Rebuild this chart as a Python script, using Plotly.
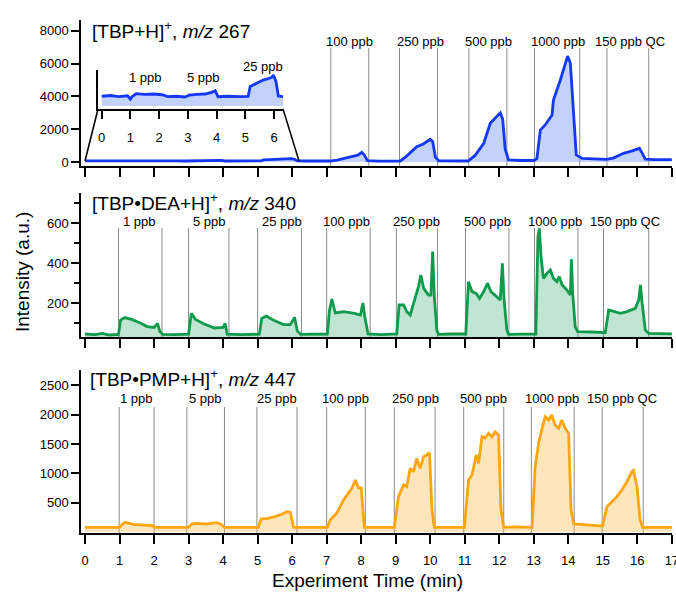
import plotly.graph_objects as go

W, H = 676, 594

# ---------------- data ----------------
t_top = [0.0, 0.3, 0.6, 0.9, 1.0, 1.05, 1.2, 1.5, 1.8, 2.1, 2.3, 2.6, 2.9, 3.05, 3.3, 3.6, 3.85, 3.95,
         4.05, 4.4, 4.8, 5.1, 5.17, 5.27, 5.45, 5.62, 5.8, 5.92, 5.98, 6.07, 6.15, 6.4, 6.8, 7.1,
         7.3, 7.5, 7.77, 7.9, 8.02, 8.1, 8.18, 8.5, 9.0, 9.13, 9.3, 9.61, 9.8, 10.0, 10.07, 10.15,
         10.25, 10.6, 11.1, 11.3, 11.55, 11.74, 11.9, 12.03, 12.1, 12.17, 12.27, 12.6, 13.0, 13.09,
         13.19, 13.33, 13.53, 13.57, 13.77, 13.91, 13.98, 14.06, 14.14, 14.23, 14.4, 14.8, 15.1,
         15.3, 15.6, 15.85, 16.06, 16.15, 16.23, 16.5, 17.0]
v_top = [65, 70, 62, 68, 45, 60, 82, 78, 80, 75, 62, 65, 60, 72, 78, 80, 92, 102,
         62, 65, 62, 64, 130, 140, 158, 173, 182, 191, 207, 162, 67, 60, 62, 60,
         110, 200, 365, 420, 590, 400, 80, 50, 50, 60, 330, 930, 1100, 1380, 1250, 300,
         70, 55, 60, 400, 1140, 2360, 2700, 3000, 2600, 800, 130, 90, 90, 200,
         1950, 2260, 2870, 3780, 5000, 6020, 6460, 6020, 3370, 430, 220, 180, 160,
         240, 530, 680, 835, 500, 180, 150, 140]

t_mid = [0.0, 0.3, 0.5, 0.7, 0.97, 1.03, 1.15, 1.35, 1.6, 1.8, 2.0, 2.1, 2.17, 2.25, 2.6, 3.0,
         3.08, 3.2, 3.45, 3.75, 4.0, 4.06, 4.12, 4.5, 5.05, 5.12, 5.25, 5.45, 5.75, 5.95, 6.07,
         6.15, 6.25, 6.6, 7.02, 7.08, 7.15, 7.25, 7.5, 7.8, 7.98, 8.05, 8.1, 8.2, 8.6, 9.03,
         9.1, 9.23, 9.32, 9.42, 9.57, 9.66, 9.73, 9.81, 9.95, 10.02, 10.07, 10.12, 10.19, 10.24,
         10.6, 11.03, 11.11, 11.21, 11.33, 11.43, 11.55, 11.66, 11.76, 11.91, 12.03, 12.09,
         12.14, 12.22, 12.27, 12.7, 13.06, 13.12, 13.16, 13.21, 13.28, 13.38, 13.48, 13.57,
         13.67, 13.74, 13.82, 13.96, 14.06, 14.09, 14.13, 14.2, 14.27, 14.7, 15.07, 15.17,
         15.31, 15.51, 15.7, 15.85, 15.94, 16.04, 16.09, 16.14, 16.23, 16.33, 16.7, 17.0]
v_mid = [45, 42, 48, 40, 43, 115, 127, 118, 100, 82, 78, 98, 57, 43, 42, 44,
         148, 118, 95, 75, 78, 98, 44, 42, 44, 123, 135, 115, 92, 92, 128,
         60, 43, 44, 45, 160, 220, 150, 157, 148, 140, 200, 135, 45, 42, 45,
         190, 190, 157, 140, 223, 282, 340, 273, 240, 240, 457, 232, 65, 43,
         45, 45, 307, 257, 248, 223, 257, 298, 257, 232, 215, 398,
         215, 65, 43, 44, 45, 532, 573, 432, 323, 348, 365, 323,
         307, 332, 290, 265, 240, 418, 240, 82, 57, 55, 52, 165,
         157, 148, 157, 165, 173, 215, 290, 198, 65, 48, 45, 46]

t_bot = [0.0, 0.5, 1.0, 1.08, 1.16, 1.4, 1.75, 1.95, 2.03, 2.5, 2.99, 3.1, 3.2, 3.5, 3.8, 3.93,
         4.04, 4.5, 5.02, 5.1, 5.3, 5.5, 5.7, 5.85, 5.95, 6.04, 6.5, 7.02, 7.1, 7.29, 7.49, 7.63,
         7.73, 7.83, 7.92, 8.0, 8.05, 8.09, 8.5, 8.96, 9.08, 9.23, 9.32, 9.42, 9.52, 9.61, 9.71,
         9.81, 9.9, 9.98, 10.05, 10.12, 10.5, 10.99, 11.11, 11.21, 11.33, 11.4, 11.5, 11.59,
         11.69, 11.79, 11.88, 11.98, 12.05, 12.13, 12.5, 12.95, 13.04, 13.14, 13.24, 13.33,
         13.43, 13.52, 13.62, 13.72, 13.81, 13.91, 14.01, 14.08, 14.16, 14.6, 14.99, 15.12,
         15.26, 15.41, 15.55, 15.7, 15.84, 15.89, 15.99, 16.08, 16.15, 16.6, 17.0]
v_bot = [80, 78, 80, 130, 165, 131, 119, 107, 80, 78, 80, 140, 148, 136, 159, 136,
         80, 78, 80, 221, 233, 261, 301, 346, 335, 80, 80, 80, 204, 318, 545, 670,
         744, 886, 753, 753, 375, 80, 80, 80, 602, 801, 772, 1085, 1028, 1255, 1085,
         1283, 1312, 1351, 375, 80, 78, 80, 886, 971, 1312, 1170, 1624, 1600,
         1681, 1620, 1709, 1650, 375, 80, 85, 80, 1113, 1511, 1767, 1964,
         1908, 1993, 1823, 1767, 1908, 1767, 1681, 375, 136, 115, 100, 431,
         516, 602, 716, 857, 1028, 1050, 772, 204, 80, 82, 80]

# event marker lines (min) per panel
lines_top = [7.12, 8.22, 9.11, 10.21, 11.12, 12.22, 13.02, 14.33, 15.12, 16.33]
lines_mid = [0.97, 2.23, 3.0, 4.17, 5.0, 6.27, 7.0, 8.26, 9.02, 10.21, 11.02, 12.28, 13.02, 14.28, 15.02, 16.33]
lines_bot = [0.99, 2.0, 2.95, 4.04, 4.98, 6.14, 7.0, 8.12, 8.96, 10.14, 10.97, 12.13, 12.93, 14.17, 14.98, 16.17]

# concentration labels
lab_top = ["100 ppb", "250 ppb", "500 ppb", "1000 ppb", "150 ppb QC"]
labx_top = [7.66, 9.71, 11.69, 13.69, 15.78]
lab_all = ["1 ppb", "5 ppb", "25 ppb", "100 ppb", "250 ppb", "500 ppb", "1000 ppb", "150 ppb QC"]
labx_mid = [1.59, 3.62, 5.70, 7.58, 9.61, 11.66, 13.62, 15.65]
labx_bot = [1.50, 3.48, 5.56, 7.54, 9.57, 11.54, 13.53, 15.56]
lab_inset = ["1 ppb", "5 ppb", "25 ppb"]
labx_inset = [1.51, 3.53, 5.62]

x_ticks = list(range(0, 18))
inset_ticks = list(range(0, 7))

titles = ["[TBP+H]<sup>+</sup>, <i>m/z</i> 267",
          "[TBP\u2022DEA+H]<sup>+</sup>, <i>m/z</i> 340",
          "[TBP\u2022PMP+H]<sup>+</sup>, <i>m/z</i> 447"]

# ---------------- styling / layout ----------------
FONT = "Liberation Sans, Arial, sans-serif"
BLUE, BLUE_F = "#1438f5", "rgba(120,155,245,0.45)"
GREEN, GREEN_F = "#109a4c", "rgba(60,175,115,0.32)"
ORANGE, ORANGE_F = "#fda60f", "rgba(253,190,80,0.38)"
LINE_GRAY = "#8a8a8a"


def px_x(p):
    return p / W


def px_y(p):
    return 1 - p / H


XR = [-0.116, 17.004]
XDOM = [px_x(81), px_x(672)]
YDOM_TOP = [px_y(166), px_y(20)]
YDOM_MID = [px_y(337), px_y(193)]
YDOM_BOT = [px_y(533), px_y(370)]
YR_TOP = [-244, 8660]
YR_MID = [30, 750]
YR_BOT = [-17, 2760]
X4DOM = [px_x(98), px_x(283)]
Y4DOM = [px_y(109), px_y(70)]
X4R = [-0.129, 6.313]
Y4R = [-20, 240]

fig = go.Figure()
fig.add_trace(go.Scatter(x=t_top, y=v_top, xaxis="x", yaxis="y", mode="lines",
                         line=dict(color=BLUE, width=2.8), fill="tozeroy", fillcolor=BLUE_F))
fig.add_trace(go.Scatter(x=t_top, y=v_top, xaxis="x4", yaxis="y4", mode="lines",
                         line=dict(color=BLUE, width=2.8), fill="tozeroy", fillcolor=BLUE_F))
fig.add_trace(go.Scatter(x=t_mid, y=v_mid, xaxis="x2", yaxis="y2", mode="lines",
                         line=dict(color=GREEN, width=2.8), fill="tozeroy", fillcolor=GREEN_F))
fig.add_trace(go.Scatter(x=t_bot, y=v_bot, xaxis="x3", yaxis="y3", mode="lines",
                         line=dict(color=ORANGE, width=2.8), fill="tozeroy", fillcolor=ORANGE_F))

tickfont = dict(family=FONT, size=13, color="black")
xcommon = dict(range=XR, domain=XDOM, showline=True, linecolor="black", linewidth=1.5,
               ticks="outside", ticklen=9, tickwidth=1.5, tickcolor="black",
               tickmode="array", tickvals=x_ticks, ticktext=[str(v) for v in x_ticks],
               showgrid=False, zeroline=False, tickfont=tickfont, automargin=False)
ycommon = dict(showline=True, linecolor="black", linewidth=1.5, ticks="outside", ticklen=8,
               tickwidth=1.5, tickcolor="black", showgrid=False, zeroline=False, tickfont=tickfont,
               automargin=False)

layout = dict(
    width=W, height=H, margin=dict(l=0, r=0, t=0, b=0, autoexpand=False),
    paper_bgcolor="white", plot_bgcolor="white", showlegend=False,
    font=dict(family=FONT, color="black"),
    xaxis=dict(xcommon, anchor="y", showticklabels=False),
    xaxis2=dict(xcommon, anchor="y2", showticklabels=False),
    xaxis3=dict(xcommon, anchor="y3", showticklabels=True, ticklabelstandoff=6,
                ticklabeloverflow="allow"),
    yaxis=dict(ycommon, domain=YDOM_TOP, range=YR_TOP, anchor="x", tickvals=[0, 2000, 4000, 6000, 8000]),
    yaxis2=dict(ycommon, domain=YDOM_MID, range=YR_MID, anchor="x2", tickvals=[200, 400, 600],
                minor=dict(tickvals=[100, 300, 500, 700], ticklen=5, ticks="outside",
                           tickcolor="black", tickwidth=1.5)),
    yaxis3=dict(ycommon, domain=YDOM_BOT, range=YR_BOT, anchor="x3",
                tickvals=[500, 1000, 1500, 2000, 2500]),
    xaxis4=dict(range=X4R, domain=X4DOM, anchor="y4", showline=True, linecolor="black",
                linewidth=1.5, ticks="outside", ticklen=8, tickwidth=1.5, tickcolor="black",
                tickmode="array", tickvals=inset_ticks, showgrid=False, zeroline=False,
                tickfont=tickfont, ticklabelstandoff=8, automargin=False),
    yaxis4=dict(range=Y4R, domain=Y4DOM, anchor="x4", showline=True, linecolor="black",
                linewidth=1.5, ticks="", showticklabels=False, showgrid=False, zeroline=False,
                automargin=False),
)
fig.update_layout(**layout)

shapes = []
for xr, yr, vals, top in [("x", "y domain", lines_top, 0.808),
                          ("x2", "y2 domain", lines_mid, 0.757),
                          ("x3", "y3 domain", lines_bot, 0.773)]:
    for v in vals:
        shapes.append(dict(type="line", xref=xr, yref=yr, x0=v, x1=v, y0=0, y1=top,
                           line=dict(color=LINE_GRAY, width=1), layer="below"))


# trapezoid connecting inset with main-axis region (0 to 6.2 min)
def main_x_paper(t):
    return XDOM[0] + (t - XR[0]) / (XR[1] - XR[0]) * (XDOM[1] - XDOM[0])


def main_y_paper(v):
    return YDOM_TOP[0] + (v - YR_TOP[0]) / (YR_TOP[1] - YR_TOP[0]) * (YDOM_TOP[1] - YDOM_TOP[0])


shapes.append(dict(type="line", xref="paper", yref="paper", x0=X4DOM[0], y0=Y4DOM[0],
                   x1=main_x_paper(0.0), y1=main_y_paper(60), line=dict(color="black", width=1.5)))
shapes.append(dict(type="line", xref="paper", yref="paper", x0=X4DOM[1], y0=Y4DOM[0],
                   x1=main_x_paper(6.2), y1=main_y_paper(60), line=dict(color="black", width=1.5)))
fig.update_layout(shapes=shapes)

ann = []
labfont = dict(family=FONT, size=13, color="black")
for txt, x in zip(lab_top, labx_top):
    ann.append(dict(text=txt, x=x, y=0.856, xref="x", yref="y domain", showarrow=False,
                    font=labfont, xanchor="center", yanchor="middle"))
for txt, x in zip(lab_all, labx_mid):
    ann.append(dict(text=txt, x=x, y=0.80, xref="x2", yref="y2 domain", showarrow=False,
                    font=labfont, xanchor="center", yanchor="middle"))
for txt, x in zip(lab_all, labx_bot):
    ann.append(dict(text=txt, x=x, y=0.828, xref="x3", yref="y3 domain", showarrow=False,
                    font=labfont, xanchor="center", yanchor="middle"))
for txt, x, yy in zip(lab_inset, labx_inset, [0.82, 0.82, 1.10]):
    ann.append(dict(text=txt, x=x, y=yy, xref="x4", yref="y4 domain", showarrow=False,
                    font=labfont, xanchor="center", yanchor="middle"))

titlefont = dict(family=FONT, size=19, color="black")
for txt, xp, yp in zip(titles, [90, 90, 88], [30, 202, 378]):
    ann.append(dict(text=txt, x=px_x(xp), y=px_y(yp), xref="paper", yref="paper",
                    showarrow=False, font=titlefont, xanchor="left", yanchor="middle"))

ann.append(dict(text="Intensity (a.u.)", x=px_x(22), y=px_y(272), xref="paper", yref="paper",
                showarrow=False, textangle=-90, font=titlefont, xanchor="center", yanchor="middle"))
ann.append(dict(text="Experiment Time (min)", x=px_x(367), y=px_y(580), xref="paper", yref="paper",
                showarrow=False, font=titlefont, xanchor="center", yanchor="middle"))
fig.update_layout(annotations=ann)

fig.write_html("out.html")
